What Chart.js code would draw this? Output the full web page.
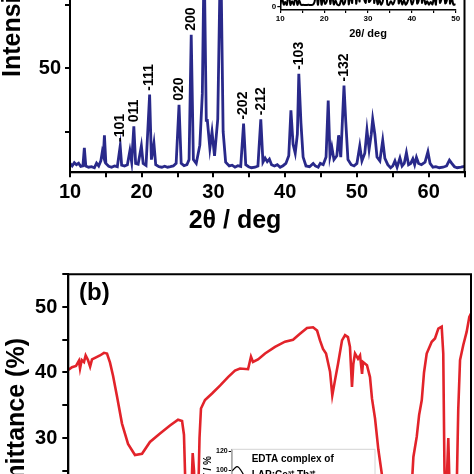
<!DOCTYPE html>
<html><head><meta charset="utf-8">
<script src="https://cdn.jsdelivr.net/npm/chart.js@4/dist/chart.umd.min.js"></script>
<style>
html,body{margin:0;padding:0;width:474px;height:474px;overflow:hidden;background:#fff;position:relative;}
.box{position:absolute;left:0;width:474px;}
</style></head><body>
<div class="box" id="bA" style="top:-100px;height:340px"><canvas id="cA"></canvas></div>
<div class="box" id="bAi" style="top:-150px;height:200px"><canvas id="cAi"></canvas></div>
<div class="box" id="bB" style="top:250px;height:450px"><canvas id="cB"></canvas></div>
<div class="box" id="bBi" style="top:430px;height:120px"><canvas id="cBi"></canvas></div>
<script>
// ===== Panel (a): XRD pattern =====
const xrdAngle = [10.0,10.3,10.6,10.9,11.2,11.5,11.8,12.0,12.2,12.6,13.0,13.4,13.7,14.0,14.3,14.5,14.65,14.8,15.0,15.4,15.8,16.2,16.6,17.0,17.2,17.6,18.0,18.35,18.6,18.9,19.15,19.5,19.95,20.2,20.6,21.1,21.35,21.7,21.95,22.4,22.8,23.2,23.6,24.0,24.4,24.8,25.2,25.5,25.9,26.3,26.6,26.9,27.2,27.6,28.1,28.45,28.7,29.0,29.15,29.5,29.8,30.15,30.6,31.0,31.35,31.7,32.2,32.6,33.0,33.4,33.8,34.2,34.5,34.9,35.3,35.8,36.2,36.6,36.9,37.2,37.5,37.8,38.1,38.5,38.9,39.3,39.7,40.1,40.5,40.8,41.1,41.4,41.7,41.9,42.2,42.5,42.9,43.4,43.9,44.2,44.6,44.9,45.3,45.7,46.0,46.25,46.5,46.8,47.2,47.45,47.75,48.2,48.45,48.75,49.2,49.6,50.0,50.4,50.7,51.1,51.4,51.7,52.0,52.2,52.5,52.8,53.2,53.6,53.9,54.3,54.7,55.0,55.3,55.6,56.0,56.3,56.6,56.9,57.2,57.5,57.8,58.05,58.3,58.6,59.0,59.5,59.9,60.2,60.6,61.0,61.5,62.0,62.5,62.9,63.2,63.6,64.0,64.5,65.0];
const xrdIntensity = [12.5,11.5,12.8,12.0,12.6,11.3,11.5,18.6,11.5,11.0,11.2,10.8,12.6,11.5,13.5,17.0,15.5,23.6,12.5,11.4,11.0,11.5,11.2,19.4,11.8,11.5,12.0,17.5,13.0,27.1,12.5,12.2,19.4,12.5,11.7,39.6,14.0,20.4,12.0,11.2,11.0,11.4,11.0,11.2,11.5,12.5,35.6,12.5,11.6,12.0,14.0,63.2,14.0,12.5,19.7,40.0,95.0,29.5,29.5,18.5,25.0,15.5,30.0,100.0,25.0,13.0,11.5,11.8,11.0,11.6,11.3,28.2,12.0,11.2,10.8,11.0,11.5,29.9,13.0,14.6,13.2,14.2,12.0,11.5,12.0,11.0,11.6,12.5,15.5,33.4,20.0,16.5,24.0,47.8,28.4,15.0,11.5,11.2,12.5,11.5,11.0,12.5,12.0,15.0,37.3,15.5,19.0,14.0,15.5,23.6,15.0,43.2,28.8,14.0,12.0,11.5,12.5,19.4,13.5,16.5,25.6,18.0,24.0,29.9,24.0,15.0,13.5,21.6,14.5,12.0,10.8,11.5,13.5,11.0,14.6,11.5,12.5,16.7,12.0,12.5,14.3,12.0,14.9,12.5,12.0,13.0,17.1,12.5,11.0,11.2,10.8,11.0,11.5,13.8,12.6,11.2,10.8,11.0,11.3];
const hklLabels = ['-101','011','-111','020','200','-202','-212','-103','-132'];
const hklAngle  = [17.0,18.9,21.1,25.2,26.9,34.2,36.6,41.9,48.2];
const hklTop    = [19.4,27.1,39.6,35.6,63.2,28.2,29.9,47.8,43.2];
// inset of panel (a)
const insetAngle = [10,10.4,10.8,11.1,11.5,11.9,12.3,12.7,13.1,13.5,13.9,14.3,14.7,15.2,15.8,16.4,17.0,17.4,17.8,18.2,18.6,19.0,19.4,19.8,20.2,20.6,21.0,21.4,21.8,22.2,22.6,23.0,23.5,24.0,24.4,24.8,25.2,25.6,26.0,26.4,26.9,27.3,27.7,28.1,28.7,29.1,29.5,29.8,30.2,30.6,31.0,31.4,31.8,32.2,32.6,33.0,33.5,34.0,34.4,34.8,35.2,35.7,36.2,36.6,37.0,37.4,37.8,38.2,38.6,39.0,39.5,40.0,40.4,40.8,41.2,41.6,41.9,42.3,42.7,43.1,43.5,43.9,44.3,44.7,45.1,45.5,46.0,46.4,46.8,47.2,47.6,48.0,48.3,48.7,49.1,49.5,50];
const insetIntensity = [2,6,1.6,3.5,1.5,12,1.5,4,1.6,9,1.5,4.5,1.6,1.5,1.4,1.5,1.4,1.5,3.5,10,1.6,15,1.6,7,2.2,4,20,2.2,10,1.8,4.5,1.6,1.5,6,1.8,4,30,2,8,3,55,2.5,10,4,80,6,3,30,3.5,5,100,3,9,2,5,1.6,6,25,2,1.5,4,1.8,7,28,2.5,6,1.8,4.5,1.6,3.5,8,1.8,5,30,2.5,5,45,3,8,2,4,1.6,3.5,1.8,7,1.8,35,3,6,20,2.5,5,40,2.5,6,1.6,2];

// ===== Panel (b): IR spectrum =====
const irWavenumber = [4000,3967,3931,3905,3895,3880,3860,3845,3824,3805,3788,3752,3717,3681,3654,3627,3600,3564,3520,3466,3404,3341,3270,3180,3091,3019,2983,2966,2952,2934,2912,2888,2876,2858,2840,2827,2814,2778,2715,2644,2572,2510,2465,2393,2367,2349,2304,2241,2152,2063,1991,1929,1866,1812,1776,1750,1723,1696,1660,1640,1616,1589,1553,1526,1500,1482,1464,1452,1437,1410,1392,1374,1365,1330,1303,1285,1258,1228,1197,1160,1034,945,915,885,864,840,820,796,751,722,692,662,648,637,624,603,588,570,528,514,498,469,439,415,400];
const irTransmittance = [40.4,40.8,41.0,41.8,40.6,41.9,41.6,42.6,41.9,40.9,42.0,42.3,42.6,43.0,42.9,41.5,39.5,36.3,32.2,29.1,27.4,27.6,29.4,30.7,31.9,32.8,32.6,30.5,22.0,10.0,15.0,27.7,25.0,12.0,20.0,30.0,34.5,35.8,36.8,38.0,39.3,40.3,40.6,40.5,42.4,41.6,42.0,42.9,43.9,44.7,45.0,45.9,46.8,46.9,46.4,44.9,43.6,42.9,40.1,36.5,38.8,41.3,44.9,45.7,45.4,43.9,37.8,41.3,42.9,42.1,42.6,39.8,41.6,41.1,39.3,36.0,33.0,28.2,24.5,15.0,10.0,18.0,27.1,30.2,33.5,35.8,40.0,42.9,44.7,45.2,46.7,47.0,42.9,25.0,20.0,30.0,20.0,10.0,22.0,34.3,41.9,44.2,46.2,48.5,49.0];
// inset of panel (b): EDTA complex
const edtaWavenumber = [4000,3967,3920,3867,3820,3774,3716,3650,3550,3450];
const edtaTransmittance = [99,100,102,103.5,102.5,100,96,90,80,70];

const FONT = '"Liberation Sans", Arial, Helvetica, sans-serif';
Chart.defaults.font.family = FONT;
Chart.defaults.color = '#000';

const zip = (xs, ys) => xs.map((x, i) => ({x: x, y: ys[i]}));

const framePlugin = {
  id: 'frame',
  afterDraw(c, args, o) {
    if (!o || !o.show) return;
    const a = c.chartArea, ctx = c.ctx;
    ctx.save();
    ctx.strokeStyle = o.color; ctx.lineWidth = o.width;
    ctx.strokeRect(a.left, a.top, a.right - a.left, a.bottom - a.top);
    ctx.restore();
  }
};
const textPlugin = {
  id: 'texts',
  afterDraw(c, args, o) {
    if (!o || !o.items) return;
    const ctx = c.ctx;
    for (let i = 0; i < o.items.length; i++) {
      const t = o.items[i];
      ctx.save();
      ctx.font = t.font; ctx.fillStyle = t.color || '#000';
      ctx.textAlign = t.align || 'left'; ctx.textBaseline = t.baseline || 'alphabetic';
      ctx.translate(t.x - o.ox, t.y - o.oy);
      if (t.rot) ctx.rotate(t.rot);
      ctx.fillText(t.text, 0, 0);
      ctx.restore();
    }
  }
};
const hklPlugin = {
  id: 'hkl',
  afterDatasetsDraw(c) {
    const xs = c.scales.x, ys = c.scales.y, ctx = c.ctx;
    ctx.save();
    ctx.font = 'bold 14px ' + FONT; ctx.fillStyle = '#000';
    ctx.textAlign = 'left'; ctx.textBaseline = 'middle';
    hklLabels.forEach((l, i) => {
      const px = xs.getPixelForValue(hklAngle[i]);
      const py = ys.getPixelForValue(hklTop[i]) - 4;
      ctx.save(); ctx.translate(px, py); ctx.rotate(-Math.PI / 2);
      ctx.fillText(l, 0, 0); ctx.restore();
    });
    ctx.restore();
  }
};

const axisGrid = (len, lw) => ({drawOnChartArea: false, drawTicks: true, tickLength: len, color: '#000', lineWidth: lw});
const axisBorder = (w) => ({display: true, color: '#000', width: w});
const base = {responsive: true, maintainAspectRatio: false, animation: false, events: []};

// ---- Panel (a) main ----
new Chart(document.getElementById('cA'), {
  type: 'line',
  data: {datasets: [{data: zip(xrdAngle, xrdIntensity), borderColor: '#29298a', borderWidth: 2.8, pointRadius: 0, tension: 0, fill: false}]},
  options: Object.assign({}, base, {
    layout: {padding: {left: 0, right: 9.5, top: 15, bottom: 0}},
    plugins: {
      legend: {display: false}, tooltip: {enabled: false},
      frame: {show: true, color: '#000', width: 2},
      texts: {ox: 0, oy: -100, items: [
        {text: '2θ / deg', x: 235, y: 228, font: 'bold 25px ' + FONT, align: 'center'},
        {text: 'Intensity (a.u.)', x: 20, y: 77, font: 'bold 25px ' + FONT, rot: -Math.PI / 2}
      ]}
    },
    scales: {
      x: {type: 'linear', min: 10, max: 65, afterFit(s) { s.height = 67.7; },
          ticks: {stepSize: 5, autoSkip: false, maxRotation: 0, padding: 3, color: '#000',
                  font: {size: 20, weight: 'bold'}, callback: v => (v % 10 === 0 ? String(v) : '')},
          grid: axisGrid(5, 2), border: axisBorder(2)},
      y: {type: 'linear', min: 9, max: 110, afterFit(s) { s.width = 70; },
          afterBuildTicks(s) { s.ticks = [25, 50, 75, 100].map(v => ({value: v})); },
          ticks: {padding: 4, color: '#000', font: {size: 20, weight: 'bold'},
                  callback: v => ((v === 50 || v === 100) ? String(v) : '')},
          grid: axisGrid(5, 2), border: axisBorder(2)}
    }
  }),
  plugins: [framePlugin, textPlugin, hklPlugin]
});

// ---- Panel (a) inset ----
new Chart(document.getElementById('cAi'), {
  type: 'line',
  data: {datasets: [{data: zip(insetAngle, insetIntensity), borderColor: '#000', borderWidth: 2, pointRadius: 0, tension: 0.35, fill: false}]},
  options: Object.assign({}, base, {
    layout: {padding: {left: 0, right: 18.3, top: 10, bottom: 0}},
    plugins: {
      legend: {display: false}, tooltip: {enabled: false},
      texts: {ox: 0, oy: -150, items: [
        {text: '2θ/ deg', x: 368, y: 34, font: 'bold 11px ' + FONT, align: 'center', baseline: 'middle'}
      ]}
    },
    scales: {
      x: {type: 'linear', min: 10, max: 50, afterFit(s) { s.height = 40; },
          ticks: {stepSize: 5, autoSkip: false, maxRotation: 0, padding: 1, color: '#000',
                  font: {size: 8, weight: 'bold'}, callback: v => (v % 10 === 0 ? String(v) : '')},
          grid: axisGrid(3, 1.2), border: axisBorder(1.5)},
      y: {type: 'linear', min: -2, max: 100, afterFit(s) { s.width = 280.3; },
          afterBuildTicks(s) { s.ticks = [{value: 0}]; },
          ticks: {padding: 1, color: '#000', font: {size: 8, weight: 'bold'}, callback: v => String(v)},
          grid: axisGrid(3, 1.2), border: axisBorder(1.5)}
    }
  }),
  plugins: [textPlugin]
});

// ---- Panel (b) main ----
new Chart(document.getElementById('cB'), {
  type: 'line',
  data: {datasets: [{data: zip(irWavenumber, irTransmittance), borderColor: '#e2232a', borderWidth: 2.6, pointRadius: 0, tension: 0, fill: false}]},
  options: Object.assign({}, base, {
    layout: {padding: {left: 0, right: 3, top: 24.25, bottom: 65.5}},
    plugins: {
      legend: {display: false}, tooltip: {enabled: false},
      frame: {show: true, color: '#000', width: 2},
      texts: {ox: 0, oy: 250, items: [
        {text: '(b)', x: 79, y: 300, font: 'bold 24px ' + FONT},
        {text: 'Transmittance (%)', x: 24, y: 338, font: 'bold 25px ' + FONT, align: 'right', rot: -Math.PI / 2}
      ]}
    },
    scales: {
      x: {type: 'linear', min: 400, max: 4000, reverse: true, display: false},
      y: {type: 'linear', min: 0, max: 55, afterFit(s) { s.width = 68.3; },
          ticks: {stepSize: 5, padding: 5, color: '#000', font: {size: 20, weight: 'bold'},
                  callback: v => (v % 10 === 0 ? String(v) : '')},
          grid: axisGrid(6, 2), border: axisBorder(2)}
    }
  }),
  plugins: [framePlugin, textPlugin]
});

// ---- Panel (b) inset ----
new Chart(document.getElementById('cBi'), {
  type: 'line',
  data: {datasets: [{data: zip(edtaWavenumber, edtaTransmittance), borderColor: '#000', borderWidth: 1.3, pointRadius: 0, tension: 0.3, fill: false}]},
  options: Object.assign({}, base, {
    layout: {padding: {left: 0, right: 99, top: 19.3, bottom: 23}},
    plugins: {
      legend: {display: false}, tooltip: {enabled: false},
      frame: {show: true, color: '#d4d4d4', width: 1},
      texts: {ox: 0, oy: 430, items: [
        {text: 'EDTA complex of', x: 251.7, y: 459, font: 'bold 10px ' + FONT, baseline: 'middle'},
        {text: 'LAP:Ce³⁺ Tb³⁺', x: 251.7, y: 475, font: 'bold 10px ' + FONT, baseline: 'middle'},
        {text: 'T / %', x: 211, y: 456, font: 'bold 10px ' + FONT, align: 'right', rot: -Math.PI / 2}
      ]}
    },
    scales: {
      x: {type: 'linear', min: 400, max: 4000, reverse: true, display: false},
      y: {type: 'linear', min: 40, max: 121.8, afterFit(s) { s.width = 231.7; },
          afterBuildTicks(s) { s.ticks = [{value: 100}, {value: 120}]; },
          ticks: {padding: 1, color: '#000', font: {size: 7, weight: 'bold'}, callback: v => String(v)},
          grid: axisGrid(3, 1), border: axisBorder(1.3)}
    }
  }),
  plugins: [framePlugin, textPlugin]
});
</script>
</body></html>
